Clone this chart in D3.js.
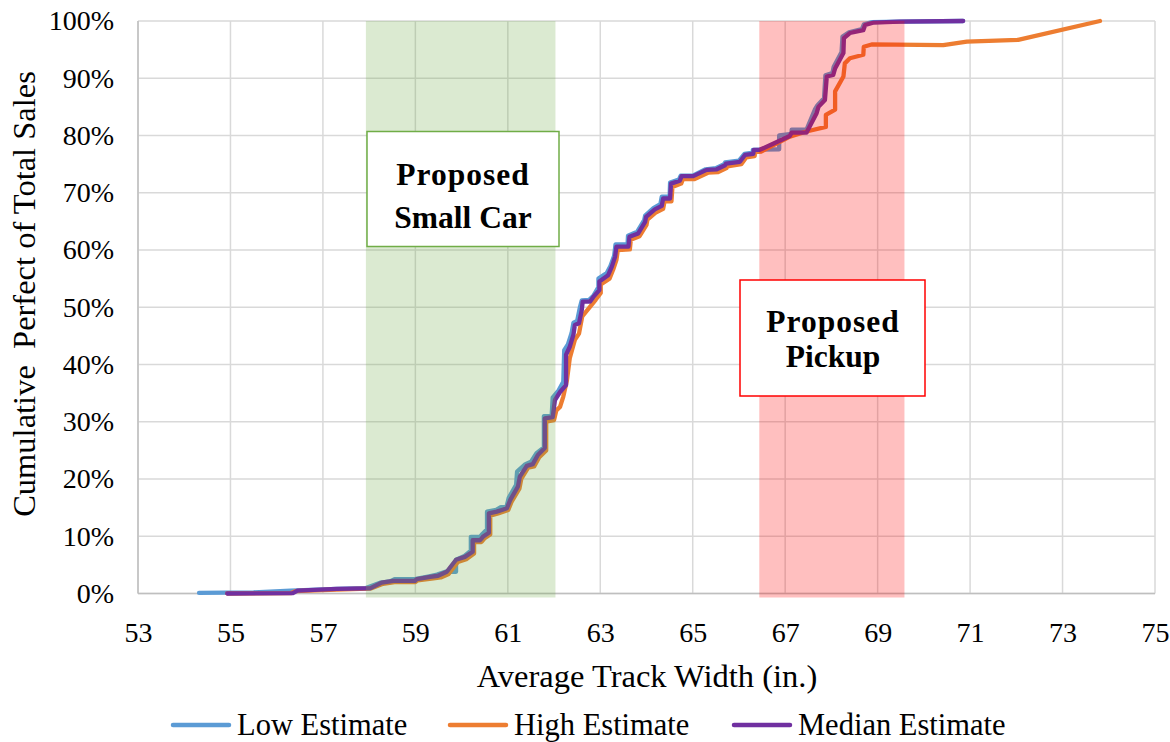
<!DOCTYPE html>
<html><head><meta charset="utf-8">
<script src="https://cdn.jsdelivr.net/npm/d3@7"></script>
<style>html,body{margin:0;padding:0;background:#fff;}</style>
</head><body>
<svg id="chart" width="1170" height="742"></svg>
<script>
const xTicks = [53,55,57,59,61,63,65,67,69,71,73,75];
const yTicks = [0,10,20,30,40,50,60,70,80,90,100];
const seriesNames = ["Low Estimate","High Estimate","Median Estimate"];
const seriesColors = ["#5B9BD5","#ED7D31","#7030A0"];

const lowEstimate = [[54.32,0.1],[55.5,0.2],[56.3,0.5],[57.3,0.8],[57.93,0.95],[58.25,1.9],[58.45,2.1],[58.55,2.5],[58.99,2.5],[59.30,3.0],[59.47,3.3],[59.65,3.8],[59.88,3.8],[59.88,5.9],[60.05,6.5],[60.20,7.5],[60.20,9.9],[60.40,9.9],[60.45,10.4],[60.55,11.2],[60.55,14.3],[60.75,14.6],[60.85,15.1],[60.97,15.1],[61.02,16.7],[61.18,19.0],[61.20,21.3],[61.38,22.6],[61.50,23.0],[61.62,24.5],[61.78,25.5],[61.78,31.0],[61.95,31.2],[61.97,34.2],[62.10,35.5],[62.20,37],[62.22,42.5],[62.30,43.5],[62.38,45.5],[62.42,47.3],[62.50,47.6],[62.56,50],[62.60,51.2],[62.76,51.3],[62.85,52],[62.96,53.5],[62.96,55.0],[63.14,56.0],[63.22,57.2],[63.30,59.0],[63.33,61.0],[63.59,61.0],[63.60,62.5],[63.80,63.2],[63.95,65.2],[63.97,66.0],[64.15,67.3],[64.30,68.0],[64.33,69.3],[64.50,69.3],[64.51,71.8],[64.70,72.3],[64.74,73.0],[65.00,73.0],[65.28,74.1],[65.50,74.3],[65.68,75.0],[65.70,75.3],[66.00,75.6],[66.12,76.8],[66.30,77.0],[66.30,77.5],[66.87,77.6],[66.87,80.0],[67.14,80.3],[67.14,81.0],[67.46,81.0],[67.64,84.5],[67.70,85.3],[67.84,86.5],[67.87,90.5],[68.02,90.9],[68.05,92],[68.22,94.6],[68.24,97.3],[68.38,98],[68.66,98.6],[68.70,99.4],[68.88,99.8],[69.45,99.9],[70.85,100]];

const highEstimate = [[54.93,0],[56.3,0.05],[56.4,0.4],[57.3,0.7],[57.97,0.85],[58.05,0.9],[58.3,1.7],[58.55,2.0],[59.0,2.0],[59.05,2.3],[59.35,2.6],[59.55,2.8],[59.72,3.4],[59.92,5.5],[60.1,6.0],[60.27,7.0],[60.27,9.0],[60.43,9.0],[60.49,9.6],[60.62,10.3],[60.62,13.6],[60.79,14.0],[60.9,14.3],[61.01,14.6],[61.08,16.0],[61.25,18.3],[61.29,20.0],[61.44,22.0],[61.57,22.2],[61.68,23.8],[61.83,25.0],[61.83,30.0],[62.0,30.3],[62.05,32.0],[62.13,32.6],[62.2,34.4],[62.28,37.3],[62.34,41.1],[62.45,44.3],[62.54,45.4],[62.61,48.4],[62.72,49.5],[62.90,51.3],[63.01,52.5],[63.01,54.0],[63.2,55.0],[63.28,56.6],[63.35,58.3],[63.38,60.0],[63.64,60.1],[63.66,61.8],[63.85,62.4],[64.0,64.4],[64.02,65.3],[64.21,66.6],[64.36,67.2],[64.39,68.5],[64.54,68.5],[64.56,71.0],[64.75,71.6],[64.79,72.4],[65.04,72.4],[65.33,73.5],[65.55,73.6],[65.73,74.3],[65.75,74.6],[66.05,75.0],[66.16,76.2],[66.34,76.4],[66.35,77.1],[66.48,77.2],[67.10,79.8],[67.46,80.7],[67.88,81.5],[67.88,83.6],[68.08,84.5],[68.08,87.7],[68.26,90.3],[68.29,92.6],[68.40,93.5],[68.69,94.1],[68.70,95.5],[68.87,95.9],[70.42,95.8],[70.93,96.4],[72.04,96.7],[73.81,100]];

const medianEstimate = [[54.93,0],[56.35,0.05],[56.45,0.5],[57.3,0.8],[57.95,0.9],[58.02,0.9],[58.27,1.9],[58.52,2.2],[58.99,2.2],[59.03,2.5],[59.32,2.9],[59.49,3.1],[59.68,3.8],[59.88,5.9],[60.07,6.4],[60.24,7.3],[60.24,9.3],[60.40,9.3],[60.46,9.9],[60.59,10.6],[60.59,14.0],[60.76,14.3],[60.87,14.6],[60.98,14.9],[61.05,16.3],[61.22,18.7],[61.26,20.4],[61.41,22.3],[61.54,22.6],[61.65,24.2],[61.80,25.4],[61.80,30.6],[61.97,30.8],[62.02,33.8],[62.13,35.2],[62.26,36.4],[62.26,41.7],[62.34,43.1],[62.42,45.2],[62.45,46.9],[62.54,47.2],[62.60,49.5],[62.62,51.0],[62.78,51.0],[62.85,51.8],[62.98,53.0],[62.98,54.5],[63.17,55.6],[63.25,57.1],[63.32,58.8],[63.35,60.6],[63.61,60.6],[63.63,62.3],[63.82,62.9],[63.97,64.9],[63.99,65.8],[64.18,67.1],[64.33,67.7],[64.36,69.0],[64.51,69.0],[64.53,71.6],[64.72,72.1],[64.76,72.9],[65.01,72.9],[65.30,74.0],[65.52,74.1],[65.70,74.8],[65.72,75.1],[66.02,75.4],[66.13,76.6],[66.31,76.8],[66.32,77.5],[66.45,77.5],[67.10,79.9],[67.14,80.5],[67.46,80.5],[67.68,83.9],[67.72,85.0],[67.86,86.2],[67.90,90.3],[68.04,90.6],[68.08,91.7],[68.26,94.4],[68.27,97.0],[68.40,97.9],[68.69,98.4],[68.73,99.3],[68.90,99.7],[69.48,99.9],[70.85,100]];

const bandGreen = [57.93, 62.03];
const bandRed = [66.44, 69.58];
const boxSmallCar = ["Proposed","Small Car"];
const boxPickup = ["Proposed","Pickup"];

const svg = d3.select("#chart");
const x = d3.scaleLinear().domain([53,75]).range([138,1155]);
const y = d3.scaleLinear().domain([0,100]).range([593.5,21]);
const font = "'Liberation Serif','Times New Roman',serif";

// grid
svg.append("g").selectAll("line.v").data(xTicks).join("line")
  .attr("x1",d=>x(d)).attr("x2",d=>x(d)).attr("y1",y(0)).attr("y2",y(100))
  .attr("stroke","#D9D9D9").attr("stroke-width",1.5);
svg.append("g").selectAll("line.h").data(yTicks).join("line")
  .attr("x1",x(53)).attr("x2",x(75)).attr("y1",d=>y(d)).attr("y2",d=>y(d))
  .attr("stroke","#D9D9D9").attr("stroke-width",1.5);
// axis lines
svg.append("line").attr("x1",x(53)).attr("x2",x(53)).attr("y1",y(0)).attr("y2",y(100)).attr("stroke","#BFBFBF").attr("stroke-width",1.5);
svg.append("line").attr("x1",x(53)).attr("x2",x(75)).attr("y1",y(0)).attr("y2",y(0)).attr("stroke","#BFBFBF").attr("stroke-width",1.5);

// tick labels via axes
const xAxis = svg.append("g").attr("transform",`translate(0,${y(0)})`)
  .call(d3.axisBottom(x).tickValues(xTicks).tickSize(0).tickPadding(29).tickFormat(d3.format("d")));
xAxis.select(".domain").remove();
xAxis.selectAll("text").attr("font-family",font).attr("font-size",28).attr("fill","#000");
const yAxis = svg.append("g").attr("transform",`translate(${x(53)},0)`)
  .call(d3.axisLeft(y).tickValues(yTicks).tickSize(0).tickPadding(24).tickFormat(d=>d+"%"));
yAxis.select(".domain").remove();
yAxis.selectAll("text").attr("font-family",font).attr("font-size",28).attr("fill","#000");

// series
const line = d3.line().x(d=>x(d[0])).y(d=>y(d[1]));
[lowEstimate, highEstimate, medianEstimate].forEach((s,i)=>{
  svg.append("path").datum(s).attr("d",line).attr("fill","none")
    .attr("stroke",seriesColors[i]).attr("stroke-width",4.3)
    .attr("stroke-linejoin","round").attr("stroke-linecap","round");
});

// bands (overlay)
svg.append("rect").attr("x",x(bandGreen[0])).attr("width",x(bandGreen[1])-x(bandGreen[0]))
  .attr("y",y(100)).attr("height",y(0)-y(100)+4).attr("fill","rgb(112,173,71)").attr("fill-opacity",0.25);
svg.append("rect").attr("x",x(bandRed[0])).attr("width",x(bandRed[1])-x(bandRed[0]))
  .attr("y",y(100)).attr("height",y(0)-y(100)+4).attr("fill","rgb(255,0,0)").attr("fill-opacity",0.25);

// text boxes
function box(x0,y0,w,h,stroke,lines,cx,base1,base2){
  svg.append("rect").attr("x",x0).attr("y",y0).attr("width",w).attr("height",h)
    .attr("fill","#fff").attr("stroke",stroke).attr("stroke-width",1.5);
  [base1,base2].forEach((b,i)=>{
    svg.append("text").attr("x",cx).attr("y",b).attr("text-anchor","middle")
      .attr("font-family",font).attr("font-weight","bold").attr("font-size",31.5)
      .attr("letter-spacing",i===0?1:0).text(lines[i]);
  });
}
box(367,131.5,192,115,"#70AD47",boxSmallCar,463,185,228);
box(740,280,185,116,"#FF0000",boxPickup,833,332,367);

// axis titles
svg.append("text").attr("x",647).attr("y",687).attr("text-anchor","middle")
  .attr("font-family",font).attr("font-size",32.5).text("Average Track Width (in.)");
svg.append("text").attr("transform","translate(35,294) rotate(-90)").attr("text-anchor","middle")
  .attr("font-family",font).attr("font-size",32.5).attr("xml:space","preserve").text("Cumulative  Perfect of Total Sales");

// legend
const legX = [173, 450, 734];
seriesNames.forEach((n,i)=>{
  const g = svg.append("g");
  g.append("line").attr("x1",legX[i]).attr("x2",legX[i]+56).attr("y1",725).attr("y2",725)
    .attr("stroke",seriesColors[i]).attr("stroke-width",4.5).attr("stroke-linecap","round");
  g.append("text").attr("x",legX[i]+64).attr("y",734.5).attr("font-family",font).attr("font-size",30.5).text(n);
});
</script>
</body></html>
